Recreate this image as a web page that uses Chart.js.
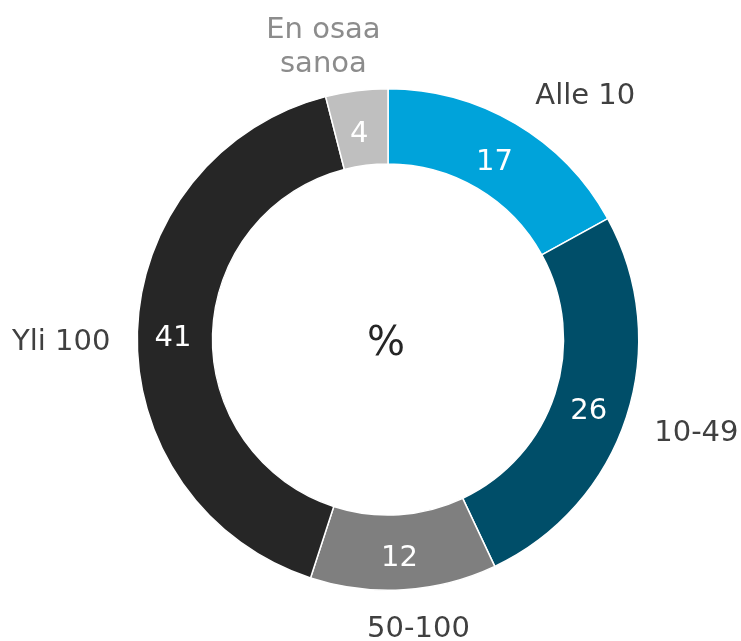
<!DOCTYPE html>
<html>
<head>
<meta charset="utf-8">
<script src="https://cdn.jsdelivr.net/npm/chart.js@4/dist/chart.umd.min.js"></script>
<style>
html,body{margin:0;padding:0;background:#fff;}
#wrap{width:741px;height:641px;position:relative;}
</style>
</head>
<body>
<div id="wrap"><canvas id="c" width="741" height="641"></canvas></div>
<script>
const categories = ["Alle 10", "10-49", "50-100", "Yli 100", "En osaa sanoa"];
const values = [17, 26, 12, 41, 4];
const centerLabel = "%";

const sliceColors = ["#00A3DA", "#004E69", "#7F7F7F", "#262626", "#BFBFBF"];
const labelColors = ["#404040", "#404040", "#404040", "#404040", "#8C8C8C"];
// small layout nudges for the outside category labels (px)
const labelNudge = [[32, 2], [7, -2], [10, -7], [-3, 6], [-23, 8]];
const FONT = "'DejaVu Sans', Verdana, sans-serif";

const labelPlugin = {
  id: 'labels',
  afterDatasetsDraw(chart) {
    const ctx = chart.ctx;
    const meta = chart.getDatasetMeta(0);
    ctx.save();
    meta.data.forEach((arc, i) => {
      const p = arc.getProps(['x','y','startAngle','endAngle','innerRadius','outerRadius'], true);
      const mid = (p.startAngle + p.endAngle) / 2;
      const dx = Math.cos(mid), dy = Math.sin(mid);
      // value label
      const rm = (p.innerRadius + p.outerRadius) / 2;
      ctx.font = "29px " + FONT;
      ctx.fillStyle = "#FFFFFF";
      ctx.textAlign = "center";
      ctx.textBaseline = "middle";
      ctx.fillText(String(values[i]), p.x + dx * rm - 2, p.y + dy * rm + 6);
      // category label outside
      const lines = categories[i] === "En osaa sanoa" ? ["En osaa", "sanoa"] : [categories[i]];
      const lh = 34;
      let w = 0;
      lines.forEach(l => { w = Math.max(w, ctx.measureText(l).width); });
      const h = lh * lines.length;
      const gap = 24;
      const ax = p.x + dx * (p.outerRadius + gap);
      const ay = p.y + dy * (p.outerRadius + gap);
      const cx = ax + dx * w / 2 + labelNudge[i][0];
      const cy = ay + dy * h / 2 + 6 + labelNudge[i][1];
      ctx.fillStyle = labelColors[i];
      lines.forEach((l, k) => {
        ctx.fillText(l, cx, cy - h / 2 + lh * (k + 0.5));
      });
      if (i === 0) {
        ctx.font = "40px " + FONT;
        ctx.fillStyle = "#262626";
        ctx.fillText(centerLabel, p.x - 2, p.y + 5);
      }
    });
    ctx.restore();
  }
};

new Chart(document.getElementById('c'), {
  type: 'doughnut',
  data: {
    labels: categories,
    datasets: [{
      data: values,
      backgroundColor: sliceColors,
      borderColor: "#FFFFFF",
      borderWidth: 1.5
    }]
  },
  options: {
    responsive: false,
    animation: false,
    cutout: '70%',
    layout: { padding: { left: 136, right: 101, top: 88, bottom: 50 } },
    plugins: { legend: { display: false }, tooltip: { enabled: false } }
  },
  plugins: [labelPlugin]
});
</script>
</body>
</html>
